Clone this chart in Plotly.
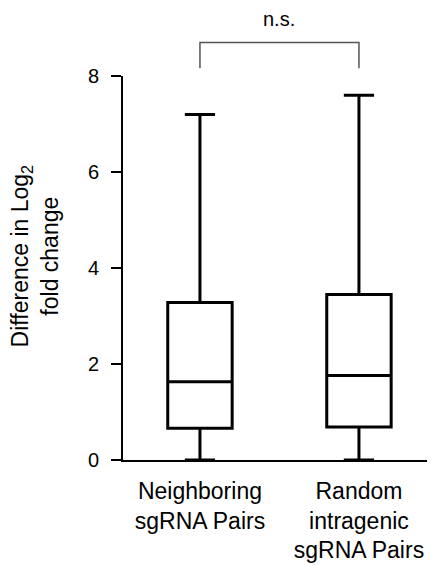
import plotly.graph_objects as go

categories = ["Neighboring<br>sgRNA Pairs", "Random<br>intragenic<br>sgRNA Pairs"]
positions = [0, 1]
lower_whisker = [0.0, 0.0]
q1_values = [0.66, 0.69]
median_values = [1.63, 1.76]
q3_values = [3.28, 3.45]
upper_whisker = [7.20, 7.60]
y_ticks = [0, 2, 4, 6, 8]
sig_label = "n.s."

FONT = "Liberation Sans, Arial, Helvetica, sans-serif"

fig = go.Figure()
for i in range(len(categories)):
    fig.add_trace(go.Box(
        x=[positions[i]],
        q1=[q1_values[i]], median=[median_values[i]], q3=[q3_values[i]],
        lowerfence=[lower_whisker[i]], upperfence=[upper_whisker[i]],
        width=0.405, whiskerwidth=0.47,
        line=dict(color="black", width=3),
        fillcolor="rgba(0,0,0,0)",
        boxpoints=False, hoverinfo="skip", showlegend=False,
    ))

# significance bracket
fig.add_shape(type="path", xref="x", yref="paper",
              path="M 0,1.020 L 0,1.087 L 1,1.087 L 1,1.020",
              line=dict(color="#555555", width=1.5))
fig.add_annotation(x=0.5, xref="x", y=1.1475, yref="paper", text=sig_label,
                   showarrow=False, yanchor="middle", xanchor="center",
                   font=dict(family=FONT, size=20, color="black"))
# y title
fig.add_annotation(x=-0.28, xref="paper", y=0.53, yref="paper",
                   text="Difference in Log<sub>2</sub><br>fold change",
                   textangle=-90, showarrow=False, xanchor="center", yanchor="middle",
                   font=dict(family=FONT, size=23, color="black"))

# page body has an 8px default margin, so the figure is sized/offset to compensate
fig.update_layout(
    width=427, height=557,
    margin=dict(l=115, r=1, t=67.7, b=105),
    paper_bgcolor="white", plot_bgcolor="white",
    font=dict(family=FONT, color="black"),
)
fig.update_xaxes(
    range=[-0.484, 1.472], tickvals=positions, ticktext=categories,
    showline=True, linecolor="black", linewidth=2, ticks="",
    showgrid=False, zeroline=False,
    tickfont=dict(family=FONT, size=23, color="black"),
    ticklabelstandoff=9,
)
fig.update_yaxes(
    range=[0, 8], tickvals=y_ticks, showline=True, linecolor="black", linewidth=2,
    ticks="outside", ticklen=10, tickwidth=2, tickcolor="black",
    showgrid=False, zeroline=False,
    tickfont=dict(family=FONT, size=20, color="black"),
    ticklabelstandoff=8,
)
fig.write_html("out.html")
